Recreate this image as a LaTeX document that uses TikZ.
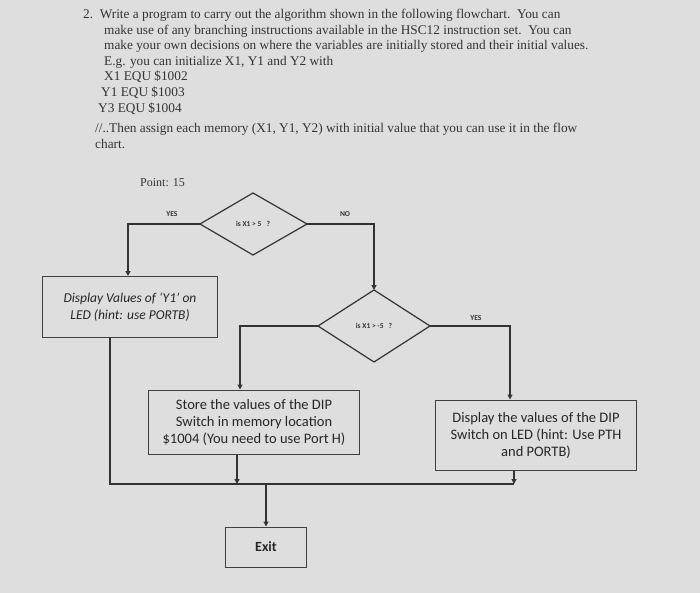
\documentclass[tikz,border=0pt]{standalone}
\usepackage{fontspec}
\setmainfont{Liberation Serif}
\newfontfamily\carfont{Carlito}
\usetikzlibrary{arrows.meta}
\begin{document}
\begin{tikzpicture}[x=1pt,y=-1pt,
  ln/.style={draw=black!80,line width=1.2pt},
  arr/.style={ln,-{Triangle[length=5pt,width=5pt]}},
  hd/.style={anchor=base west,inner sep=0pt,font=\fontsize{13.3}{14}\selectfont,text=black!80},
  bx/.style={draw=black!75,line width=1pt,align=center,font=\carfont\fontsize{14.5}{17}\selectfont,text=black!85,inner sep=0pt},
  lb/.style={font=\carfont\fontsize{7.5}{8}\selectfont\bfseries,text=black!80,inner sep=0pt}]
\fill[black!13] (0,0) rectangle (700,593);
\node[hd] (h1) at (83,19) {2.\ \ Write a program to carry out the algorithm shown in the following flowchart.\ \ You can};
\node[hd] (h2) at (104,35) {make use of any branching instructions available in the HSC12 instruction set.\ \ You can};
\node[hd] (h3) at (104,50) {make your own decisions on where the variables are initially stored and their initial values.};
\node[hd] (h4) at (104,66) {E.g. you can initialize X1, Y1 and Y2 with};
\node[hd] (h5) at (104,81) {X1 EQU \$1002};
\node[hd] (h6) at (101,97) {Y1 EQU \$1003};
\node[hd] (h7) at (98,113) {Y3 EQU \$1004};
\node[hd] (h8) at (95,133) {//..Then assign each memory (X1, Y1, Y2) with initial value that you can use it in the flow};
\node[hd] (h9) at (95,149) {chart.};
\node[hd,font=\fontsize{12}{13}\selectfont] (pt) at (140,187) {Point: 15};
% decisions
\path[ln,fill=black!13] (200,224) -- (253,193) -- (307,224) -- (253,255) -- cycle;
\node[lb] (d1) at (253,224) {is X1 > 5\ \ \ ?};
\coordinate (d1l) at (200,224); \coordinate (d1r) at (307,224);
\path[ln,fill=black!13] (318,326) -- (374,290) -- (430,326) -- (374,362) -- cycle;
\node[lb] (d2) at (374,326) {is X1 > -5\ \ \ ?};
\coordinate (d2l) at (318,326); \coordinate (d2r) at (430,326); \coordinate (d2t) at (374,290);
% boxes
\node[bx,minimum width=175,minimum height=61,font=\carfont\itshape\fontsize{13.5}{17}\selectfont] (b1) at (130,307) {Display Values of ‘Y1’ on\\LED (hint: use PORTB)};
\node[bx,minimum width=211,minimum height=64] (b2) at (254,422) {Store the values of the DIP\\Switch in memory location\\\$1004 (You need to use Port H)};
\node[bx,minimum width=201,minimum height=70] (b3) at (536,435) {Display the values of the DIP\\Switch on LED (hint: Use PTH\\and PORTB)};
\node[bx,minimum width=81,minimum height=40,font=\carfont\bfseries\fontsize{14}{15}\selectfont] (ex) at (266,547) {Exit};
% labels
\node[lb] (ly1) at (172,214) {YES};
\node[lb] (ln1) at (345,214) {NO};
\node[lb] (ly2) at (476,318) {YES};
% connectors
\coordinate (j) at (266,484);
\draw[arr] (d1l) -| (b1.north -| 128,0);
\draw[arr] (d1r) -| (d2t);
\draw[arr] (d2l) -| (b2.north -| 240,0);
\draw[arr] (d2r) -| (b3.north -| 510,0);
\draw[ln] (b1.south -| 110,0) -- (110,484) -- (514,484);
\draw[arr] (b2.south -| 237,0) -- (237,484);
\draw[arr] (b3.south -| 514,0) -- (514,484);
\draw[arr] (j) -- (ex.north);
\end{tikzpicture}
\end{document}
